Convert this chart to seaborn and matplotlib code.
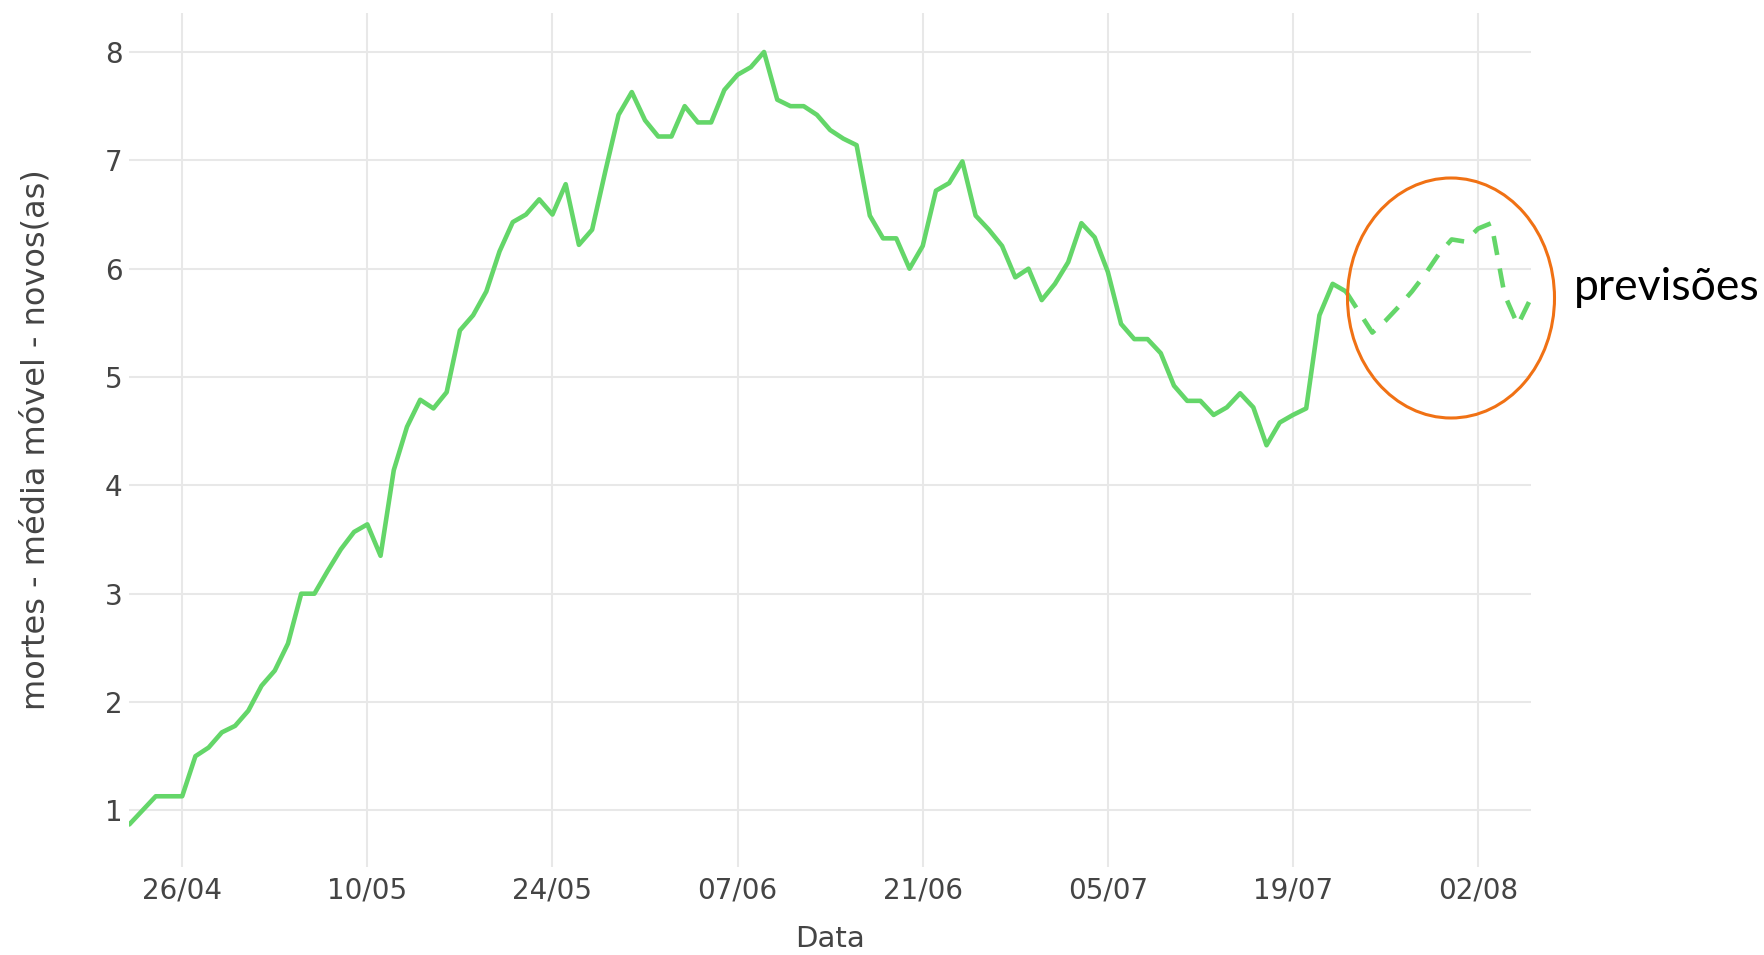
import pandas as pd
import matplotlib
matplotlib.use("Agg")
import matplotlib.pyplot as plt
from matplotlib.patches import Ellipse
import seaborn as sns

# Dados: média móvel de mortes (novos), observado e previsão
obs_start = "2020-04-22"
obs_values = [
    0.87, 1.00, 1.13, 1.13, 1.13, 1.50, 1.58, 1.72, 1.78, 1.92,
    2.15, 2.29, 2.54, 3.00, 3.00, 3.21, 3.41, 3.57, 3.64, 3.35,
    4.14, 4.54, 4.79, 4.71, 4.86, 5.43, 5.57, 5.79, 6.16, 6.43,
    6.50, 6.64, 6.50, 6.78, 6.22, 6.36, 6.90, 7.42, 7.63, 7.37,
    7.22, 7.22, 7.50, 7.35, 7.35, 7.65, 7.79, 7.86, 8.00, 7.56,
    7.50, 7.50, 7.42, 7.28, 7.20, 7.14, 6.49, 6.28, 6.28, 6.00,
    6.21, 6.72, 6.79, 6.99, 6.49, 6.36, 6.21, 5.92, 6.00, 5.71,
    5.86, 6.06, 6.42, 6.29, 5.97, 5.49, 5.35, 5.35, 5.22, 4.92,
    4.78, 4.78, 4.65, 4.72, 4.85, 4.72, 4.37, 4.58, 4.65, 4.71,
    5.57, 5.86, 5.79,
]
fc_start = "2020-07-23"
fc_values = [
    5.79, 5.60, 5.41, 5.52, 5.65, 5.79, 5.95, 6.13, 6.27, 6.25,
    6.37, 6.42, 5.76, 5.48, 5.73,
]
tick_dates = ["2020-04-26", "2020-05-10", "2020-05-24", "2020-06-07",
              "2020-06-21", "2020-07-05", "2020-07-19", "2020-08-02"]
tick_labels = ["26/04", "10/05", "24/05", "07/06", "21/06", "05/07", "19/07", "02/08"]
y_ticks = [1, 2, 3, 4, 5, 6, 7, 8]

df_obs = pd.DataFrame({
    "data": pd.date_range(obs_start, periods=len(obs_values), freq="D"),
    "valor": obs_values,
})
df_fc = pd.DataFrame({
    "data": pd.date_range(fc_start, periods=len(fc_values), freq="D"),
    "valor": fc_values,
})

sns.set_style("white")
plt.rcParams["font.family"] = ["DejaVu Sans"]

W, H = 1765, 955
fig = plt.figure(figsize=(W / 100, H / 100), dpi=100)
ax = fig.add_axes([129.3 / W, 1 - 866.7 / H, (1531 - 129.3) / W, (866.7 - 13) / H])

verde = "#64d669"
sns.lineplot(data=df_obs, x="data", y="valor", color=verde, linewidth=3.3, ax=ax)
sns.lineplot(data=df_fc, x="data", y="valor", color=verde, linewidth=3.3, ax=ax)
ax.lines[-1].set_dashes([4.2, 3.0])

ax.set_xlim(df_obs["data"].iloc[0], df_fc["data"].iloc[-1])
ax.set_ylim(0.48, 8.36)

ax.set_xticks(pd.to_datetime(tick_dates))
ax.set_xticklabels(tick_labels)
ax.set_yticks(y_ticks)
ax.set_yticklabels([str(v) for v in y_ticks])

ax.grid(True, color="#e8e8e8", linewidth=1.5)
ax.set_axisbelow(True)
for s in ax.spines.values():
    s.set_visible(False)
ax.tick_params(axis="both", length=0, labelsize=20, labelcolor="#444444")
ax.tick_params(axis="x", pad=7)
ax.tick_params(axis="y", pad=5)

ax.set_xlabel("Data", fontsize=21, color="#444444")
ax.xaxis.set_label_coords(0.5, -0.068)
ax.set_ylabel("mortes - média móvel - novos(as)", fontsize=23, color="#444444")
ax.yaxis.set_label_coords((52 - 129.3) / (1531 - 129.3), 0.5)

# anotação: círculo laranja + texto
elipse = Ellipse((1451 / W, 1 - 298 / H), 207 / W, 240 / H, transform=fig.transFigure,
                 fill=False, edgecolor="#f07114", linewidth=2.2, clip_on=False)
fig.patches.append(elipse)
fig.text(1574 / W, 1 - 287 / H, "previsões", fontsize=32, family=["Lato", "DejaVu Sans"],
         color="black", ha="left", va="center")

plt.savefig("out.png", dpi=100)
